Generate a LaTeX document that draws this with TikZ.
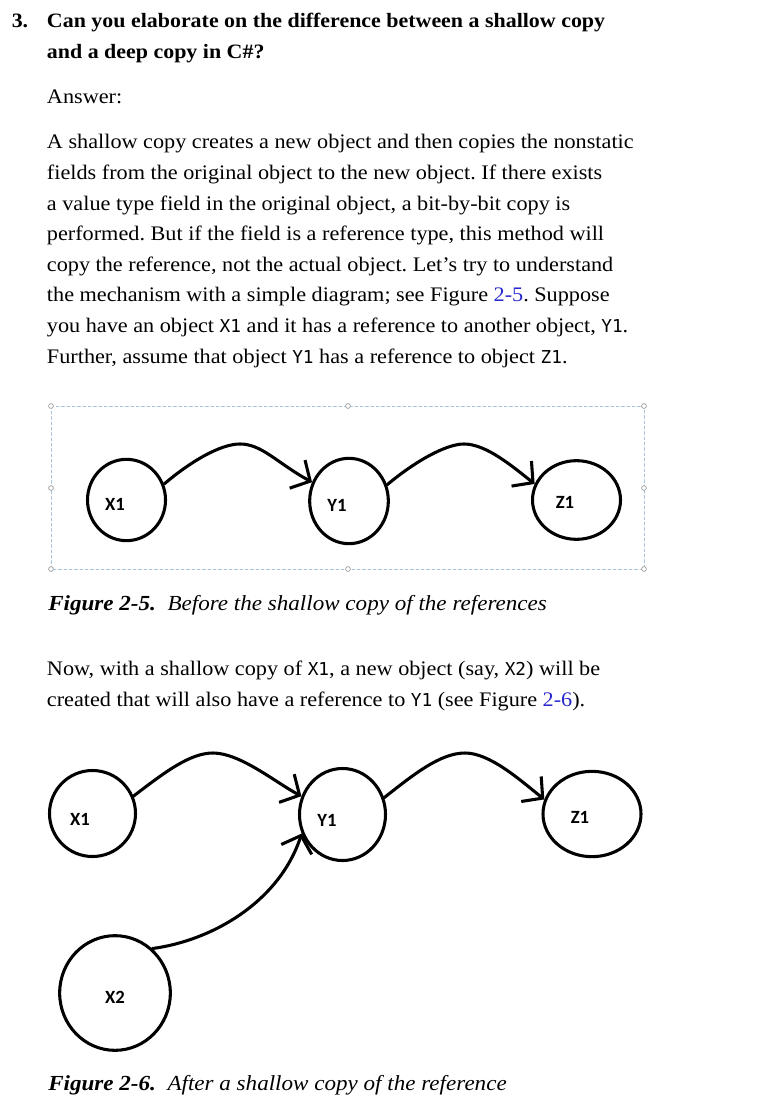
\documentclass[tikz,border=0pt]{standalone}
\usepackage{fontspec}
\setmainfont{Liberation Serif}[FakeStretch=1.075]
\setmonofont{DejaVu Sans Mono}[Scale=0.86]
\newfontfamily\tagfont{Carlito}
\usetikzlibrary{shapes.geometric,arrows.meta}
\definecolor{linkblue}{RGB}{40,40,205}
\definecolor{frameblue}{RGB}{165,195,225}
\definecolor{handlegray}{RGB}{165,165,165}
\newcommand{\obj}[1]{\texttt{#1}}
\newcommand{\figref}[1]{\textcolor{linkblue}{#1}}
\frenchspacing
\tikzset{
	body/.style={anchor=base west,align=left,inner sep=0pt,font=\fontsize{15.5}{22.95}\selectfont},
	heading/.style={body,font=\fontsize{15.3}{22.95}\selectfont\bfseries},
	caption/.style={body,font=\fontsize{16.1}{22.95}\selectfont\itshape},
	circ/.style={ellipse,draw,line width=2.3pt,inner sep=0pt},
	tag/.style={font=\tagfont\bfseries\fontsize{14}{14}\selectfont,inner sep=0pt},
	link/.style={line width=2.3pt,->},
}
\begin{document}
\begin{tikzpicture}[x=0.75pt,y=-0.75pt,>={Straight Barb[length=11pt,width=24pt]},line join=round,line cap=round]
		\useasboundingbox (0,0) rectangle (765,1120);
		% question and answer (multi-line nodes sit on their last line)
		\node[heading] (num) at (11.5,27.3) {3.};
		\node[heading] (question) at (46.7,58.3) {Can you elaborate on the difference between a shallow copy\\and a deep copy in C\#?};
		\node[body] (answer) at (46.7,104) {Answer:};
		\node[body] (para1) at (46.7,363) {A shallow copy creates a new object and then copies the nonstatic\\
			fields from the original object to the new object. If there exists\\
			a value type field in the original object, a bit-by-bit copy is\\
			performed. But if the field is a reference type, this method will\\
			copy the reference, not the actual object. Let’s try to understand\\
			the mechanism with a simple diagram; see Figure \figref{2-5}. Suppose\\
			you have an object \obj{X1} and it has a reference to another object, \obj{Y1}.\\
			Further, assume that object \obj{Y1} has a reference to object \obj{Z1}.};
		% figure 2-5
		\draw[frameblue,line width=0.7pt,dash pattern=on 2pt off 2pt] (51,406) rectangle (644,569);
		\foreach \hx/\hy in {51/406,348/406,644/406,51/488,644/488,51/569,348/569,644/569}
		\draw[handlegray,fill=white,line width=0.6pt] (\hx,\hy) circle (1.8pt);
		\node[circ,minimum width=58.5pt,minimum height=61pt] (fx1) at (126.5,500) {};
		\node[circ,minimum width=59pt,minimum height=64pt] (fy1) at (349,501) {};
		\node[circ,minimum width=66pt,minimum height=59pt] (fz1) at (576.5,500) {};
		\node[tag] (fx1t) at (115,504) {X1};
		\node[tag] (fy1t) at (337,505) {Y1};
		\node[tag] (fz1t) at (565,502) {Z1};
		\draw[link] (fx1.23) .. controls (190,462) and (220,444) .. (240,444) .. controls (262,444) and (277,463) .. (fy1.153);
		\draw[link] (fy1.23) .. controls (413,463) and (445,444) .. (464,444) .. controls (486,444) and (512,466) .. (fz1.159);
		\node[caption] (cap1) at (48,610) {\textbf{Figure 2-5.}\ \ Before the shallow copy of the references};
		\node[body] (para2) at (46.7,706) {Now, with a shallow copy of \obj{X1}, a new object (say, \obj{X2}) will be\\
			created that will also have a reference to \obj{Y1} (see Figure \figref{2-6}).};
		% figure 2-6
		\node[circ,minimum width=64.5pt,minimum height=64.5pt] (sx1) at (92.5,813.5) {};
		\node[circ,minimum width=64.5pt,minimum height=69pt] (sy1) at (342.5,814.5) {};
		\node[circ,minimum width=73.5pt,minimum height=64pt] (sz1) at (592,814) {};
		\node[circ,minimum width=83pt,minimum height=86pt] (sx2) at (115,993) {};
		\node[tag] (sx1t) at (80,819) {X1};
		\node[tag] (sy1t) at (327,820) {Y1};
		\node[tag] (sz1t) at (580,817) {Z1};
		\node[tag] (sx2t) at (115,997) {X2};
		\draw[link] (sx1.23) .. controls (165,772) and (190,753) .. (213,753) .. controls (240,753) and (275,782) .. (sy1.156);
		\draw[link] (sy1.22) .. controls (413,775) and (440,753) .. (465,753) .. controls (490,753) and (520,780) .. (sz1.163);
		\draw[link] (sx2.50) .. controls (215,940) and (280,900) .. (sy1.205);
		\node[caption] (cap2) at (48,1090) {\textbf{Figure 2-6.}\ \ After a shallow copy of the reference};
\end{tikzpicture}
\end{document}
